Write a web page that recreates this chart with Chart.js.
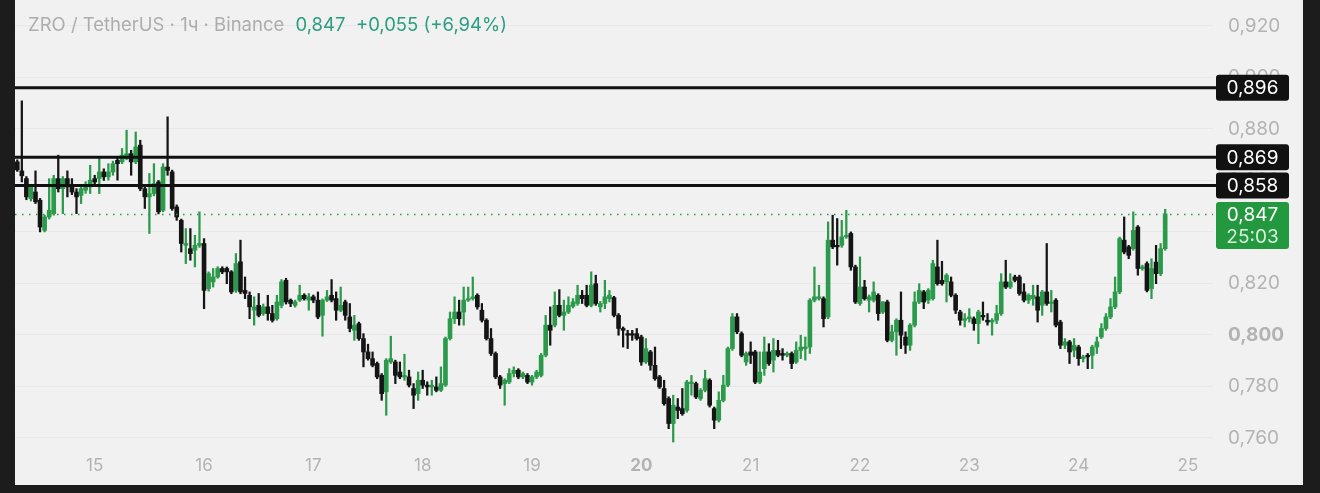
<!DOCTYPE html>
<html>
<head>
<meta charset="utf-8">
<script src="https://cdn.jsdelivr.net/npm/chart.js@4.4.1/dist/chart.umd.min.js"></script>
<style>
  html, body { margin: 0; padding: 0; background: #1c1c1c; width: 1320px; height: 493px; overflow: hidden; }
  #panel { position: absolute; left: 15px; top: 0; width: 1288px; height: 485px; background: #f1f1f1; }
  #chart { display: block; }
  #title { position: absolute; left: 13px; top: 13px; font: 18.5px Inter, "Noto Sans", sans-serif; color: #adadad; white-space: nowrap; }
  #title .quote { color: #2a9e80; margin-left: 6px; }
</style>
</head>
<body>
<div id="panel">
  <canvas id="chart" width="1288" height="485"></canvas>
  <div id="title">ZRO / TetherUS · 1ч · Binance <span class="quote">0,847&nbsp; +0,055 (+6,94%)</span></div>
</div>
<script>
// day labels on the time axis, first hourly candle is 14th 07:00
const dayLabels = ["15", "16", "17", "18", "19", "20", "21", "22", "23", "24", "25"]
const firstMidnight = 17 // candle index of 15th 00:00
const yTicks = [0.76, 0.78, 0.8, 0.82, 0.84, 0.86, 0.88, 0.9, 0.92]
const levels = [0.896, 0.869, 0.858]
const lastPrice = 0.847
const countdown = "25:03"

// hourly candles: [open, high, low, close]
const ohlc = [
  [0.8672, 0.8680, 0.8635, 0.8641], [0.8637, 0.8909, 0.8594, 0.8618], [0.8607, 0.8615, 0.8525, 0.8536], [0.8529, 0.8585, 0.8520, 0.8575],
  [0.8555, 0.8637, 0.8510, 0.8517], [0.8523, 0.8530, 0.8400, 0.8419], [0.8406, 0.8465, 0.8400, 0.8458], [0.8458, 0.8607, 0.8450, 0.8484],
  [0.8471, 0.8620, 0.8465, 0.8607], [0.8607, 0.8698, 0.8555, 0.8568], [0.8568, 0.8615, 0.8471, 0.8607], [0.8607, 0.8637, 0.8536, 0.8575],
  [0.8581, 0.8607, 0.8545, 0.8555], [0.8555, 0.8568, 0.8471, 0.8536], [0.8542, 0.8575, 0.8510, 0.8568], [0.8562, 0.8595, 0.8550, 0.8581],
  [0.8575, 0.8659, 0.8549, 0.8601], [0.8607, 0.8620, 0.8580, 0.8594], [0.8607, 0.8691, 0.8549, 0.8633], [0.8633, 0.8645, 0.8600, 0.8614],
  [0.8614, 0.8665, 0.8601, 0.8633], [0.8633, 0.8675, 0.8620, 0.8665], [0.8678, 0.8691, 0.8601, 0.8665], [0.8672, 0.8724, 0.8665, 0.8698],
  [0.8685, 0.8795, 0.8680, 0.8704], [0.8704, 0.8717, 0.8620, 0.8672], [0.8672, 0.8788, 0.8665, 0.8730], [0.8737, 0.8756, 0.8560, 0.8568],
  [0.8568, 0.8575, 0.8491, 0.8536], [0.8536, 0.8627, 0.8394, 0.8549], [0.8549, 0.8665, 0.8540, 0.8588], [0.8594, 0.8600, 0.8470, 0.8478],
  [0.8484, 0.8665, 0.8478, 0.8652], [0.8652, 0.8847, 0.8620, 0.8639], [0.8633, 0.8640, 0.8484, 0.8491], [0.8497, 0.8505, 0.8445, 0.8458],
  [0.8445, 0.8450, 0.8322, 0.8355], [0.8348, 0.8413, 0.8277, 0.8355], [0.8335, 0.8413, 0.8290, 0.8316], [0.8329, 0.8387, 0.8264, 0.8348],
  [0.8348, 0.8478, 0.8340, 0.8355], [0.8355, 0.8374, 0.8102, 0.8173], [0.8180, 0.8245, 0.8170, 0.8238], [0.8206, 0.8258, 0.8186, 0.8225],
  [0.8225, 0.8265, 0.8220, 0.8258], [0.8258, 0.8265, 0.8238, 0.8245], [0.8258, 0.8264, 0.8199, 0.8245], [0.8245, 0.8250, 0.8160, 0.8167],
  [0.8173, 0.8316, 0.8165, 0.8277], [0.8284, 0.8368, 0.8160, 0.8167], [0.8173, 0.8225, 0.8141, 0.8161], [0.8154, 0.8167, 0.8063, 0.8109],
  [0.8096, 0.8148, 0.8038, 0.8109], [0.8115, 0.8161, 0.8070, 0.8076], [0.8083, 0.8120, 0.8076, 0.8109], [0.8109, 0.8154, 0.8057, 0.8083],
  [0.8083, 0.8115, 0.8050, 0.8057], [0.8063, 0.8154, 0.8057, 0.8128], [0.8115, 0.8215, 0.8105, 0.8206], [0.8212, 0.8220, 0.8120, 0.8128],
  [0.8135, 0.8140, 0.8110, 0.8122], [0.8115, 0.8135, 0.8108, 0.8128], [0.8135, 0.8193, 0.8130, 0.8154], [0.8154, 0.8160, 0.8135, 0.8141],
  [0.8135, 0.8161, 0.8096, 0.8148], [0.8148, 0.8155, 0.8125, 0.8135], [0.8135, 0.8167, 0.8063, 0.8070], [0.8076, 0.8140, 0.7995, 0.8135],
  [0.8135, 0.8173, 0.8130, 0.8148], [0.8154, 0.8215, 0.8128, 0.8135], [0.8141, 0.8167, 0.8057, 0.8096], [0.8096, 0.8186, 0.8090, 0.8115],
  [0.8128, 0.8135, 0.8057, 0.8076], [0.8070, 0.8122, 0.8012, 0.8025], [0.8018, 0.8076, 0.7979, 0.8038], [0.8044, 0.8050, 0.7979, 0.7986],
  [0.7986, 0.8005, 0.7876, 0.7934], [0.7934, 0.7964, 0.7902, 0.7908], [0.7908, 0.7934, 0.7876, 0.7882], [0.7889, 0.7895, 0.7830, 0.7837],
  [0.7843, 0.7850, 0.7746, 0.7772], [0.7779, 0.7908, 0.7688, 0.7902], [0.7895, 0.7995, 0.7889, 0.7908], [0.7895, 0.7902, 0.7811, 0.7843],
  [0.7856, 0.7895, 0.7830, 0.7837], [0.7837, 0.7925, 0.7824, 0.7843], [0.7837, 0.7863, 0.7798, 0.7805], [0.7792, 0.7811, 0.7714, 0.7766],
  [0.7772, 0.7856, 0.7746, 0.7824], [0.7824, 0.7863, 0.7792, 0.7805], [0.7805, 0.7818, 0.7766, 0.7798], [0.7798, 0.7824, 0.7766, 0.7805],
  [0.7798, 0.7837, 0.7779, 0.7785], [0.7785, 0.7876, 0.7780, 0.7811], [0.7805, 0.7992, 0.7800, 0.7986], [0.7986, 0.8089, 0.7980, 0.8063],
  [0.8063, 0.8148, 0.8044, 0.8089], [0.8089, 0.8135, 0.8038, 0.8063], [0.8089, 0.8186, 0.8038, 0.8135], [0.8135, 0.8186, 0.8130, 0.8141],
  [0.8141, 0.8225, 0.8135, 0.8148], [0.8154, 0.8160, 0.8100, 0.8109], [0.8096, 0.8122, 0.8050, 0.8057], [0.8057, 0.8063, 0.7980, 0.7986],
  [0.7986, 0.8025, 0.7920, 0.7928], [0.7928, 0.7934, 0.7830, 0.7837], [0.7837, 0.7843, 0.7792, 0.7805], [0.7811, 0.7830, 0.7727, 0.7824],
  [0.7817, 0.7869, 0.7811, 0.7850], [0.7850, 0.7876, 0.7837, 0.7863], [0.7863, 0.7869, 0.7830, 0.7837], [0.7837, 0.7856, 0.7830, 0.7850],
  [0.7843, 0.7850, 0.7811, 0.7817], [0.7817, 0.7843, 0.7805, 0.7837], [0.7837, 0.7863, 0.7830, 0.7856], [0.7843, 0.7928, 0.7837, 0.7921],
  [0.7921, 0.8076, 0.7915, 0.8038], [0.8038, 0.8109, 0.7960, 0.8018], [0.8038, 0.8167, 0.8031, 0.8115], [0.8115, 0.8176, 0.8070, 0.8076],
  [0.8076, 0.8135, 0.8018, 0.8089], [0.8089, 0.8148, 0.8083, 0.8115], [0.8111, 0.8141, 0.8105, 0.8128], [0.8122, 0.8193, 0.8115, 0.8154],
  [0.8154, 0.8173, 0.8122, 0.8141], [0.8154, 0.8193, 0.8109, 0.8115], [0.8115, 0.8245, 0.8109, 0.8193], [0.8199, 0.8232, 0.8115, 0.8122],
  [0.8109, 0.8130, 0.8089, 0.8122], [0.8122, 0.8212, 0.8102, 0.8148], [0.8141, 0.8173, 0.8128, 0.8154], [0.8145, 0.8150, 0.8070, 0.8076],
  [0.8076, 0.8083, 0.7999, 0.8025], [0.8025, 0.8031, 0.7953, 0.8018], [0.8005, 0.8018, 0.7947, 0.7999], [0.8005, 0.8018, 0.7979, 0.7999],
  [0.8005, 0.8025, 0.7980, 0.7986], [0.7992, 0.7999, 0.7882, 0.7895], [0.7895, 0.7986, 0.7889, 0.7947], [0.7934, 0.7940, 0.7863, 0.7882],
  [0.7882, 0.7953, 0.7824, 0.7830], [0.7837, 0.7843, 0.7792, 0.7798], [0.7792, 0.7824, 0.7727, 0.7733], [0.7753, 0.7760, 0.7636, 0.7656],
  [0.7656, 0.7766, 0.7584, 0.7727], [0.7720, 0.7753, 0.7675, 0.7707], [0.7714, 0.7792, 0.7688, 0.7694], [0.7707, 0.7824, 0.7700, 0.7817],
  [0.7811, 0.7843, 0.7766, 0.7817], [0.7811, 0.7817, 0.7753, 0.7759], [0.7753, 0.7792, 0.7746, 0.7785], [0.7785, 0.7863, 0.7779, 0.7830],
  [0.7824, 0.7830, 0.7720, 0.7727], [0.7714, 0.7720, 0.7636, 0.7669], [0.7669, 0.7779, 0.7662, 0.7746], [0.7746, 0.7843, 0.7740, 0.7805],
  [0.7805, 0.7953, 0.7799, 0.7947], [0.7947, 0.8083, 0.7940, 0.8070], [0.8070, 0.8083, 0.8005, 0.8012], [0.8005, 0.8012, 0.7915, 0.7921],
  [0.7895, 0.7934, 0.7882, 0.7928], [0.7934, 0.7973, 0.7889, 0.7921], [0.7934, 0.7940, 0.7811, 0.7817], [0.7817, 0.7934, 0.7811, 0.7856],
  [0.7869, 0.7992, 0.7843, 0.7934], [0.7934, 0.7966, 0.7882, 0.7889], [0.7902, 0.7986, 0.7856, 0.7940], [0.7940, 0.7979, 0.7915, 0.7921],
  [0.7928, 0.7947, 0.7902, 0.7921], [0.7921, 0.7934, 0.7915, 0.7928], [0.7928, 0.7934, 0.7869, 0.7889], [0.7895, 0.7973, 0.7889, 0.7940],
  [0.7940, 0.7999, 0.7908, 0.7953], [0.7947, 0.7992, 0.7902, 0.7953], [0.7953, 0.8141, 0.7928, 0.8135], [0.8135, 0.8264, 0.8128, 0.8148],
  [0.8141, 0.8193, 0.8135, 0.8148], [0.8141, 0.8148, 0.8031, 0.8063], [0.8070, 0.8439, 0.8063, 0.8368], [0.8368, 0.8465, 0.8335, 0.8342],
  [0.8348, 0.8452, 0.8271, 0.8342], [0.8348, 0.8445, 0.8340, 0.8381], [0.8381, 0.8484, 0.8375, 0.8387], [0.8394, 0.8400, 0.8251, 0.8264],
  [0.8264, 0.8271, 0.8122, 0.8128], [0.8122, 0.8303, 0.8115, 0.8186], [0.8186, 0.8212, 0.8135, 0.8141], [0.8135, 0.8155, 0.8089, 0.8148],
  [0.8135, 0.8206, 0.8128, 0.8167], [0.8154, 0.8160, 0.8057, 0.8083], [0.8089, 0.8130, 0.8083, 0.8128], [0.8128, 0.8135, 0.7973, 0.7979],
  [0.7979, 0.8038, 0.7973, 0.8012], [0.8012, 0.8063, 0.7921, 0.8057], [0.8057, 0.8167, 0.7947, 0.7999], [0.7992, 0.8012, 0.7928, 0.7960],
  [0.7960, 0.8044, 0.7940, 0.8038], [0.8038, 0.8167, 0.8031, 0.8128], [0.8128, 0.8199, 0.8122, 0.8173], [0.8167, 0.8173, 0.8102, 0.8128],
  [0.8135, 0.8180, 0.8122, 0.8173], [0.8141, 0.8290, 0.8135, 0.8277], [0.8264, 0.8368, 0.8193, 0.8199], [0.8212, 0.8286, 0.8193, 0.8199],
  [0.8206, 0.8238, 0.8128, 0.8232], [0.8206, 0.8225, 0.8148, 0.8154], [0.8154, 0.8160, 0.8083, 0.8096], [0.8089, 0.8096, 0.8038, 0.8057],
  [0.8057, 0.8083, 0.8031, 0.8063], [0.8063, 0.8102, 0.8050, 0.8070], [0.8063, 0.8070, 0.8018, 0.8044], [0.8044, 0.8096, 0.7966, 0.8089],
  [0.8076, 0.8128, 0.8057, 0.8070], [0.8057, 0.8083, 0.8038, 0.8050], [0.8050, 0.8063, 0.7999, 0.8057], [0.8057, 0.8115, 0.8044, 0.8083],
  [0.8083, 0.8238, 0.8076, 0.8206], [0.8206, 0.8290, 0.8180, 0.8186], [0.8186, 0.8238, 0.8180, 0.8206], [0.8225, 0.8232, 0.8206, 0.8212],
  [0.8225, 0.8232, 0.8154, 0.8161], [0.8167, 0.8199, 0.8128, 0.8135], [0.8135, 0.8160, 0.8122, 0.8154], [0.8141, 0.8193, 0.8115, 0.8154],
  [0.8148, 0.8193, 0.8050, 0.8096], [0.8115, 0.8173, 0.8076, 0.8167], [0.8167, 0.8355, 0.8115, 0.8122], [0.8122, 0.8173, 0.8089, 0.8128],
  [0.8135, 0.8141, 0.8031, 0.8038], [0.8050, 0.8057, 0.7947, 0.7960], [0.7960, 0.7986, 0.7947, 0.7973], [0.7973, 0.7979, 0.7889, 0.7934],
  [0.7940, 0.7986, 0.7915, 0.7960], [0.7953, 0.7960, 0.7882, 0.7908], [0.7908, 0.7921, 0.7895, 0.7915], [0.7921, 0.7928, 0.7869, 0.7915],
  [0.7921, 0.7960, 0.7869, 0.7953], [0.7953, 0.7992, 0.7928, 0.7973], [0.7992, 0.8044, 0.7986, 0.8025], [0.8025, 0.8083, 0.8018, 0.8070],
  [0.8070, 0.8141, 0.8063, 0.8109], [0.8109, 0.8225, 0.8102, 0.8167], [0.8167, 0.8380, 0.8160, 0.8374], [0.8368, 0.8458, 0.8315, 0.8322],
  [0.8342, 0.8348, 0.8296, 0.8309], [0.8335, 0.8478, 0.8329, 0.8406], [0.8419, 0.8425, 0.8232, 0.8258], [0.8258, 0.8271, 0.8251, 0.8264],
  [0.8277, 0.8284, 0.8167, 0.8173], [0.8180, 0.8296, 0.8141, 0.8258], [0.8283, 0.8348, 0.8199, 0.8238], [0.8238, 0.8355, 0.8230, 0.8335],
  [0.8335, 0.8488, 0.8329, 0.8470],
]

const UP = "#2b9b4b"
const DOWN = "#151515"
const AXIS_TEXT = "#b3b3b3"
const FONT = 'Inter, "Noto Sans", sans-serif'

const candleColors = ohlc.map((c) => (c[3] >= c[0] ? UP : DOWN))
const dayTicks = dayLabels.map((_, i) => firstMidnight + i * 24)
const fmt = (v) => v.toFixed(3).replace(".", ",")

Chart.defaults.font.family = FONT

// price lines and the boxes on the price axis
const overlay = {
  id: "overlay",
  afterDatasetsDraw(chart) {
    const { ctx, chartArea: a, scales } = chart
    const y = scales.y
    ctx.save()
    const py = Math.round(y.getPixelForValue(lastPrice)) + 0.5
    ctx.strokeStyle = UP
    ctx.lineWidth = 1.5
    ctx.setLineDash([1.5, 5.5])
    ctx.beginPath()
    ctx.moveTo(a.left, py)
    ctx.lineTo(a.right, py)
    ctx.stroke()
    ctx.setLineDash([])

    ctx.strokeStyle = "#111"
    ctx.lineWidth = 3
    levels.forEach((v) => {
      const ly = y.getPixelForValue(v)
      ctx.beginPath()
      ctx.moveTo(a.left, ly)
      ctx.lineTo(a.right + 3, ly)
      ctx.stroke()
    })
    ctx.restore()
  },
  afterDraw(chart) {
    const { ctx, chartArea: a, scales } = chart
    const y = scales.y
    const bx = a.right + 3
    const bw = 73
    ctx.save()
    ctx.font = "19px " + FONT
    ctx.textAlign = "center"
    ctx.textBaseline = "middle"

    levels.forEach((v) => {
      const ly = y.getPixelForValue(v)
      ctx.fillStyle = "#111"
      ctx.beginPath()
      ctx.roundRect(bx, ly - 13, bw, 26, 3)
      ctx.fill()
      ctx.fillStyle = "#fff"
      ctx.fillText(fmt(v), bx + bw / 2, ly + 1)
    })

    const py = y.getPixelForValue(lastPrice)
    ctx.fillStyle = "#23983f"
    ctx.beginPath()
    ctx.roundRect(bx, py - 12, bw, 47, 3)
    ctx.fill()
    ctx.fillStyle = "#fff"
    ctx.fillText(fmt(lastPrice), bx + bw / 2, py + 1)
    ctx.fillStyle = "#d8f0dc"
    ctx.fillText(countdown, bx + bw / 2, py + 23)
    ctx.restore()
  },
}

new Chart(document.getElementById("chart"), {
  type: "bar",
  data: {
    datasets: [
      {
        label: "wick",
        data: ohlc.map((c, i) => ({ x: i, y: [c[2], c[1]] })),
        backgroundColor: candleColors,
        barThickness: 1.6,
        grouped: false,
      },
      {
        label: "body",
        data: ohlc.map((c, i) => ({ x: i, y: [c[0], c[3]] })),
        backgroundColor: candleColors,
        barThickness: 4,
        minBarLength: 1.5,
        grouped: false,
      },
    ],
  },
  options: {
    responsive: false,
    animation: false,
    layout: { padding: 0 },
    plugins: {
      legend: { display: false },
      tooltip: { enabled: false },
    },
    scales: {
      x: {
        type: "linear",
        offset: false,
        min: -0.5,
        max: 262.5,
        grid: { display: false },
        border: { display: false },
        afterBuildTicks: (s) => {
          s.ticks = dayTicks.map((v) => ({ value: v }))
        },
        afterFit: (s) => {
          s.height = 40
          s.paddingLeft = 0
          s.paddingRight = 0
        },
        ticks: {
          autoSkip: false,
          maxRotation: 0,
          padding: 3,
          color: AXIS_TEXT,
          font: (c) => ({ size: 17, weight: c.index === 5 ? "bold" : "normal" }),
          callback: (v, i) => dayLabels[i],
        },
      },
      y: {
        position: "right",
        min: 0.75726,
        max: 0.93006,
        grid: { color: "#e8e8e8", drawTicks: false },
        border: { display: false },
        afterBuildTicks: (s) => {
          s.ticks = yTicks.map((v) => ({ value: v }))
        },
        afterFit: (s) => {
          s.width = 90
          s.paddingTop = 0
          s.paddingBottom = 0
        },
        ticks: {
          padding: 15,
          color: AXIS_TEXT,
          font: (c) => ({ size: 19, weight: c.tick && c.tick.value === 0.8 ? "bold" : "normal" }),
          callback: (v) => fmt(v),
        },
      },
    },
  },
  plugins: [overlay],
})
</script>
</body>
</html>
